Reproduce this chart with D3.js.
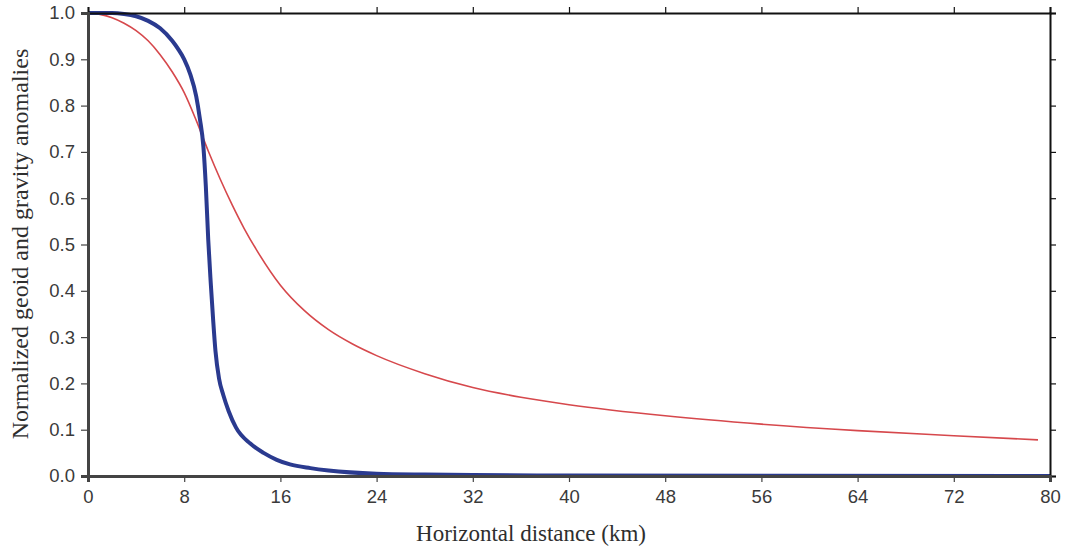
<!DOCTYPE html>
<html>
<head>
<meta charset="utf-8">
<script src="https://cdn.jsdelivr.net/npm/d3@7.9.0/dist/d3.min.js"></script>
<style>
  body { margin: 0; background: #fff; }
  .tick text { font-family: "Liberation Sans", Arial, sans-serif; font-size: 18.5px; fill: #3a3a3a; }
  .title { font-family: "Liberation Serif", "Times New Roman", serif; fill: #2e2e2e; }
</style>
</head>
<body>
<svg id="chart" width="1067" height="549"></svg>
<script>
// x ticks (km) and y ticks
const xTicks = [0, 8, 16, 24, 32, 40, 48, 56, 64, 72, 80];
const yTicks = [0, 0.1, 0.2, 0.3, 0.4, 0.5, 0.6, 0.7, 0.8, 0.9, 1.0];

// thin red curve
const redX = [0, 1, 2, 3, 4, 5, 6, 7, 8, 9, 10, 11, 12, 13, 14, 16, 18, 20, 22, 24, 28, 32, 36, 40, 48, 56, 64, 72, 79];
const redY = [1.0, 0.997, 0.99, 0.978, 0.962, 0.94, 0.91, 0.873, 0.828, 0.768, 0.702, 0.641, 0.585, 0.534, 0.489, 0.412, 0.357, 0.316, 0.285, 0.26, 0.221, 0.191, 0.17, 0.154, 0.13, 0.112, 0.098, 0.087, 0.078];

// thick blue curve
const blueX = [0, 2, 3, 4, 5, 6, 7, 7.5, 8, 8.5, 9, 9.3, 9.6, 9.8, 10, 10.2, 10.4, 10.6, 10.9, 11.25, 11.7, 12.3, 13.5, 14.6, 15.7, 16.8, 18.5, 20, 24, 28, 32, 40, 80];
const blueY = [1, 1, 0.998, 0.993, 0.983, 0.967, 0.94, 0.922, 0.9, 0.868, 0.82, 0.772, 0.71, 0.625, 0.51, 0.42, 0.34, 0.27, 0.21, 0.175, 0.14, 0.105, 0.07, 0.05, 0.035, 0.025, 0.017, 0.012, 0.005, 0.003, 0.002, 0.001, 0];

const svg = d3.select('#chart');
const margin = { left: 88, right: 17, top: 13, bottom: 73 };
const W = 1067, H = 549;

const x = d3.scaleLinear().domain([0, 80]).range([margin.left, W - margin.right]);
const y = d3.scaleLinear().domain([0, 1]).range([H - margin.bottom, margin.top]);

const line = d3.line()
    .x(d => x(d[0]))
    .y(d => y(d[1]))
    .curve(d3.curveMonotoneX);

// curves
svg.append('path')
    .attr('d', line(d3.zip(redX, redY)))
    .attr('fill', 'none')
    .attr('stroke', '#d6484c')
    .attr('stroke-width', 1.6);

svg.append('path')
    .attr('d', line(d3.zip(blueX, blueY)))
    .attr('fill', 'none')
    .attr('stroke', '#2a3a8f')
    .attr('stroke-width', 4)
    .attr('stroke-linejoin', 'round');

// axes
const bottomAxis = d3.axisBottom(x).tickValues(xTicks).tickFormat(d3.format('d')).tickSize(6).tickPadding(8);
const leftAxis = d3.axisLeft(y).tickValues(yTicks).tickFormat(d3.format('.1f')).tickSize(7).tickPadding(6);
const topAxis = d3.axisTop(x).tickValues(xTicks).tickFormat('').tickSize(6);
const rightAxis = d3.axisRight(y).tickValues(yTicks).tickFormat('').tickSize(6);

function styleAxis(g, color, width) {
    g.select('.domain').attr('stroke', color).attr('stroke-width', width);
    g.selectAll('.tick line').attr('stroke', color).attr('stroke-width', 1.2);
}

svg.append('g').attr('transform', `translate(0,${margin.top})`).call(topAxis).call(g => styleAxis(g, '#111', 2));
svg.append('g').attr('transform', `translate(${W - margin.right},0)`).call(rightAxis).call(g => styleAxis(g, '#111', 2));
svg.append('g').attr('transform', `translate(0,${H - margin.bottom})`).call(bottomAxis).call(g => styleAxis(g, '#444', 3));
svg.append('g').attr('transform', `translate(${margin.left},0)`).call(leftAxis).call(g => styleAxis(g, '#444', 3));

// axis titles
svg.append('text')
    .attr('class', 'title')
    .attr('x', 531)
    .attr('y', 541)
    .attr('font-size', 23)
    .attr('text-anchor', 'middle')
    .text('Horizontal distance (km)');

svg.append('text')
    .attr('class', 'title')
    .attr('transform', `translate(28,244) rotate(-90)`)
    .attr('font-size', 24)
    .attr('text-anchor', 'middle')
    .text('Normalized geoid and gravity anomalies');
</script>
</body>
</html>
